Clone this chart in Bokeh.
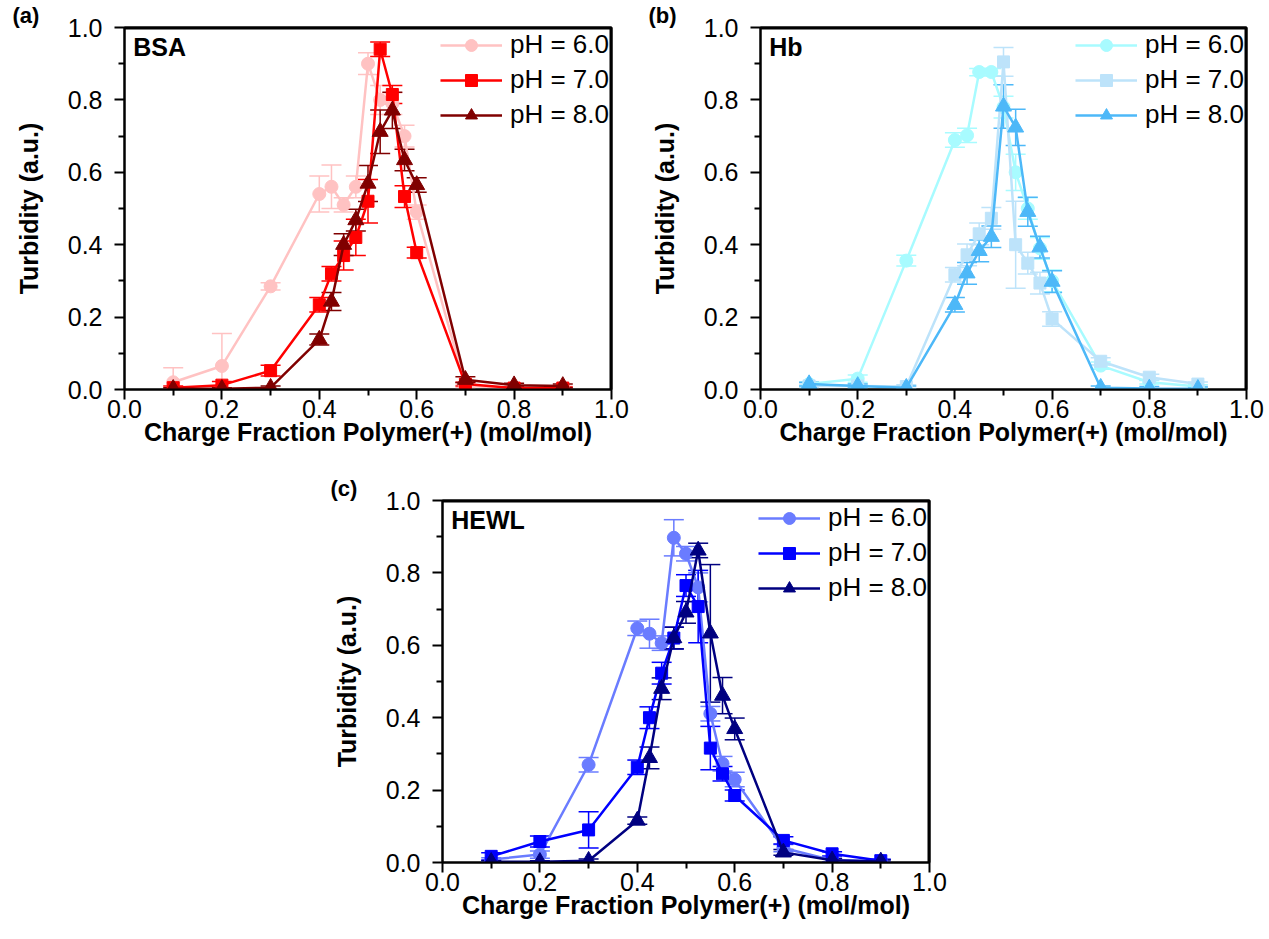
from bokeh.plotting import figure
from bokeh.models import (ColumnDataSource, Whisker, TeeHead, Legend, LegendItem,
                          Label, Spacer, FixedTicker, PrintfTickFormatter, LinearAxis)
from bokeh.layouts import column, row
from bokeh.embed import file_html
from bokeh.resources import INLINE

# ---------------- data ----------------
x_vals = [0.1, 0.2, 0.3, 0.4, 0.425, 0.45, 0.475, 0.5, 0.525, 0.55, 0.575, 0.6, 0.7, 0.8, 0.9]

bsa_ph6 = [0.02, 0.065, 0.285, 0.54, 0.56, 0.51, 0.56, 0.90, 0.80, 0.79, 0.70, 0.49, 0.01, 0.004, 0.004]
bsa_ph6_err = [0.04, 0.09, 0.01, 0.05, 0.06, 0.02, 0.03, 0.03, 0.04, 0.03, 0.03, 0.02, 0.005, 0.005, 0.005]
bsa_ph7 = [0.005, 0.012, 0.052, 0.234, 0.32, 0.37, 0.42, 0.52, 0.94, 0.815, 0.533, 0.378, 0.015, 0.004, 0.004]
bsa_ph7_err = [0.005, 0.01, 0.015, 0.02, 0.02, 0.04, 0.05, 0.06, 0.02, 0.025, 0.03, 0.015, 0.005, 0.003, 0.003]
bsa_ph8 = [0.002, 0.002, 0.005, 0.138, 0.243, 0.40, 0.468, 0.569, 0.712, 0.771, 0.634, 0.565, 0.027, 0.012, 0.01]
bsa_ph8_err = [0.003, 0.003, 0.005, 0.015, 0.025, 0.03, 0.03, 0.05, 0.06, 0.05, 0.03, 0.02, 0.008, 0.005, 0.005]

hb_ph6 = [0.015, 0.03, 0.356, 0.689, 0.702, 0.877, 0.877, 0.78, 0.60, 0.50, 0.39, 0.30, 0.066, 0.02, 0.008]
hb_ph6_err = [0.005, 0.01, 0.015, 0.02, 0.02, 0.01, 0.01, 0.03, 0.05, 0.03, 0.03, 0.03, 0.01, 0.005, 0.005]
hb_ph7 = [0.01, 0.01, 0.008, 0.317, 0.372, 0.43, 0.473, 0.905, 0.40, 0.349, 0.294, 0.195, 0.078, 0.034, 0.015]
hb_ph7_err = [0.005, 0.005, 0.005, 0.02, 0.03, 0.03, 0.03, 0.04, 0.12, 0.03, 0.03, 0.02, 0.01, 0.008, 0.006]
hb_ph8 = [0.015, 0.01, 0.005, 0.234, 0.321, 0.383, 0.422, 0.782, 0.724, 0.491, 0.393, 0.298, 0.005, 0.003, 0.002]
hb_ph8_err = [0.005, 0.005, 0.005, 0.02, 0.03, 0.03, 0.03, 0.06, 0.05, 0.04, 0.03, 0.03, 0.005, 0.005, 0.005]

hewl_ph6 = [0.008, 0.022, 0.27, 0.647, 0.632, 0.606, 0.897, 0.853, 0.76, 0.411, 0.273, 0.229, 0.04, 0.006, 0.004]
hewl_ph6_err = [0.005, 0.01, 0.02, 0.02, 0.04, 0.02, 0.05, 0.02, 0.04, 0.02, 0.02, 0.02, 0.01, 0.005, 0.004]
hewl_ph7 = [0.017, 0.058, 0.09, 0.263, 0.40, 0.523, 0.62, 0.765, 0.707, 0.316, 0.245, 0.185, 0.061, 0.024, 0.005]
hewl_ph7_err = [0.01, 0.015, 0.05, 0.02, 0.03, 0.03, 0.03, 0.03, 0.10, 0.06, 0.02, 0.015, 0.01, 0.006, 0.004]
hewl_ph8 = [0.002, 0.002, 0.005, 0.116, 0.289, 0.48, 0.62, 0.691, 0.862, 0.633, 0.461, 0.369, 0.028, 0.006, 0.003]
hewl_ph8_err = [0.003, 0.003, 0.005, 0.01, 0.03, 0.03, 0.03, 0.03, 0.02, 0.19, 0.05, 0.03, 0.008, 0.005, 0.004]

legend_labels = ["pH = 6.0", "pH = 7.0", "pH = 8.0"]
markers = ["circle", "square", "triangle"]
major_ticks = [0.0, 0.2, 0.4, 0.6, 0.8, 1.0]
minor_ticks = [0.1, 0.3, 0.5, 0.7, 0.9]
axis_min, axis_max = 0.0, 1.0

panels = [
    ("(a)", "BSA", [bsa_ph6, bsa_ph7, bsa_ph8], [bsa_ph6_err, bsa_ph7_err, bsa_ph8_err],
     ["#ffc2c2", "#ff0000", "#800000"]),
    ("(b)", "Hb", [hb_ph6, hb_ph7, hb_ph8], [hb_ph6_err, hb_ph7_err, hb_ph8_err],
     ["#a8fbff", "#bde3fa", "#4db8f8"]),
    ("(c)", "HEWL", [hewl_ph6, hewl_ph7, hewl_ph8], [hewl_ph6_err, hewl_ph7_err, hewl_ph8_err],
     ["#6a7cff", "#0000ff", "#000080"]),
]

FONT = "Liberation Sans"


def border_axis():
    a = LinearAxis(ticker=FixedTicker(ticks=major_ticks, minor_ticks=minor_ticks))
    a.axis_line_width = 2
    a.axis_line_color = "black"
    a.major_tick_out = 0
    a.major_tick_in = 0
    a.minor_tick_out = 0
    a.minor_tick_in = 0
    a.major_tick_line_color = None
    a.minor_tick_line_color = None
    a.major_label_text_font_size = "1px"
    a.major_label_text_alpha = 0
    a.major_label_standoff = 0
    return a


def make_panel(tag, name, series, errs, colors, width, height, bl, br, bt, bb):
    p = figure(width=width, height=height, x_range=(axis_min, axis_max),
               y_range=(axis_min, axis_max),
               output_backend="svg", toolbar_location=None,
               min_border_left=bl, min_border_right=br, min_border_top=bt, min_border_bottom=bb)
    p.xgrid.visible = False
    p.ygrid.visible = False
    p.outline_line_color = "black"
    p.outline_line_width = 2
    p.background_fill_color = "white"
    p.border_fill_color = "white"

    # panel tag as title
    p.title.text = tag
    p.title.align = "left"
    p.title.offset = -112
    p.title.standoff = 0
    p.title.text_font = FONT
    p.title.text_font_size = "22px"
    p.title.text_font_style = "bold"
    p.title.text_color = "black"

    for ax in (p.xaxis[0], p.yaxis[0]):
        ax.ticker = FixedTicker(ticks=major_ticks, minor_ticks=minor_ticks)
        ax.formatter = PrintfTickFormatter(format="%.1f")
        ax.axis_line_width = 2
        ax.major_tick_line_width = 2
        ax.minor_tick_line_width = 2
        ax.major_tick_out = 10
        ax.major_tick_in = 0
        ax.minor_tick_out = 6
        ax.minor_tick_in = 0
        ax.major_label_text_font = FONT
        ax.major_label_text_font_size = "25px"
        ax.major_label_text_color = "black"
        ax.axis_label_text_font = FONT
        ax.axis_label_text_font_style = "bold"
        ax.axis_label_text_font_size = "25px"
        ax.axis_label_text_color = "black"
    p.xaxis[0].axis_label = "Charge Fraction Polymer(+) (mol/mol)"
    p.yaxis[0].axis_label = "Turbidity (a.u.)"
    p.xaxis[0].major_label_standoff = 0
    p.xaxis[0].axis_label_standoff = -3
    p.yaxis[0].major_label_standoff = 12
    p.yaxis[0].axis_label_standoff = 22

    # frame box: plain axes on top and right
    p.add_layout(border_axis(), "above")
    p.add_layout(border_axis(), "right")

    items = []
    for ys, es, col, mk, lab in zip(series, errs, colors, markers, legend_labels):
        src = ColumnDataSource(dict(
            x=x_vals, y=ys,
            lo=[a - b for a, b in zip(ys, es)],
            hi=[a + b for a, b in zip(ys, es)]))
        w = Whisker(base="x", upper="hi", lower="lo", source=src,
                    line_color=col, line_width=1.5,
                    upper_head=TeeHead(size=20, line_color=col, line_width=1.5),
                    lower_head=TeeHead(size=20, line_color=col, line_width=1.5))
        p.add_layout(w)
        lr = p.line("x", "y", source=src, line_color=col, line_width=2.5)
        sz = {"circle": 13, "square": 12, "triangle": 16}[mk]
        sr = p.scatter("x", "y", source=src, marker=mk, size=sz,
                       fill_color=col, line_color=col)
        items.append(LegendItem(label=lab, renderers=[lr, sr]))

    # frame box lines along the range ends (inside the frame)
    p.segment(x0=[axis_min, axis_max], y0=[axis_max, axis_min],
              x1=[axis_max, axis_max], y1=[axis_max, axis_max],
              line_color="black", line_width=4)

    leg = Legend(items=items, location="top_right")
    leg.margin = 0
    leg.padding = 2
    leg.spacing = 4
    leg.glyph_width = 62
    leg.glyph_height = 30
    leg.label_height = 30
    leg.label_standoff = 8
    leg.label_text_font = FONT
    leg.label_text_font_size = "26px"
    leg.label_text_color = "black"
    leg.border_line_alpha = 0
    leg.background_fill_alpha = 0
    p.add_layout(leg)

    p.add_layout(Label(x=0.018, y=0.945, text=name, text_font=FONT, text_font_style="bold",
                       text_font_size="25px", text_baseline="middle", text_color="black"))
    return p


pa = make_panel(*panels[0], width=636, height=473, bl=124, br=25, bt=27, bb=84)
pb = make_panel(*panels[1], width=633, height=473, bl=124, br=23, bt=27, bb=84)
pc = make_panel(*panels[2], width=636, height=466, bl=124, br=25, bt=27, bb=77)

layout = column(row(pa, pb), row(Spacer(width=318, height=466), pc))

open("out.html", "w").write(file_html(layout, INLINE))
